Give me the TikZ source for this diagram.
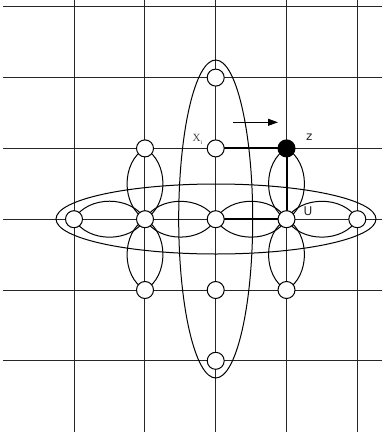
\documentclass[tikz,border=0pt]{standalone}
\usepackage{fontspec}
\newfontfamily\labsans{DejaVu Sans}
\newfontfamily\labserif{Liberation Serif}
\usetikzlibrary{arrows.meta}
\pgfdeclarelayer{bg}
\pgfsetlayers{bg,main}
\begin{document}
\begin{tikzpicture}[x=1pt,y=-1pt,
  gridline/.style={black!85,line width=1pt},
  vtx/.style={circle,draw,fill=white,minimum size=17pt,inner sep=0pt,line width=1pt},
  blackvtx/.style={vtx,fill=black},
  curve/.style={line width=1pt},
  heavy/.style={line width=2pt},
  lbl/.style={inner sep=0pt,anchor=base west}]
\useasboundingbox (0,0) rectangle (382,437);
% nodes
\node[vtx] (t1) at (215.7,77.6) {};
\node[vtx] (xi) at (215.7,148.4) {};
\node[blackvtx] (z) at (286.5,148.4) {};
\node[vtx] (l2) at (145,148.4) {};
\node[vtx] (r0) at (74,219.2) {};
\node[vtx] (r1) at (145,219.2) {};
\node[vtx] (r2) at (215.7,219.2) {};
\node[vtx] (u) at (286.5,219.2) {};
\node[vtx] (r4) at (357.3,219.2) {};
\node[vtx] (l4) at (145,290) {};
\node[vtx] (m4) at (215.7,290) {};
\node[vtx] (u4) at (286.5,290) {};
\node[vtx] (b5) at (215.7,360.8) {};
% labels
\node[lbl,text=black!75] (xilab) at (192.5,141.5) {\fontsize{11}{11}\selectfont\labserif X\raisebox{-2.5pt}{\fontsize{6}{6}\selectfont i}};
\node[lbl,text=black!85] (zlab) at (306,140) {\fontsize{12}{12}\selectfont\labsans z};
\node[lbl,text=black!85] (ulab) at (303.5,215.5) {\fontsize{12}{12}\selectfont\labsans U};
\coordinate (a0) at (233,122.3);
\coordinate (a1) at (278,122.3);
\draw[line width=1pt,-{Triangle[length=10pt,width=7pt]}] (a0) -- (a1);
\begin{pgfonlayer}{bg}
\foreach \i in {0,...,4} \draw[gridline] ({74+70.8*\i},0) -- ({74+70.8*\i},432);
\foreach \j in {0,...,5} \draw[gridline] (3,{6.8+70.8*\j}) -- (382,{6.8+70.8*\j});
\draw[curve] (215.7,219) ellipse [x radius=37pt, y radius=159pt];
\draw[curve] (216,219) ellipse [x radius=160pt, y radius=35pt];
\foreach \a/\b in {r0/r1,r1/r2,r2/u,u/r4,l2/r1,r1/l4,z/u,u/u4}
  \draw[curve] (\a.center) to[bend left=60] (\b.center) to[bend left=60] (\a.center);
\draw[heavy] (xi.center) -- (z.center) -- (u.center) -- (r2.center);
\end{pgfonlayer}
\end{tikzpicture}
\end{document}
